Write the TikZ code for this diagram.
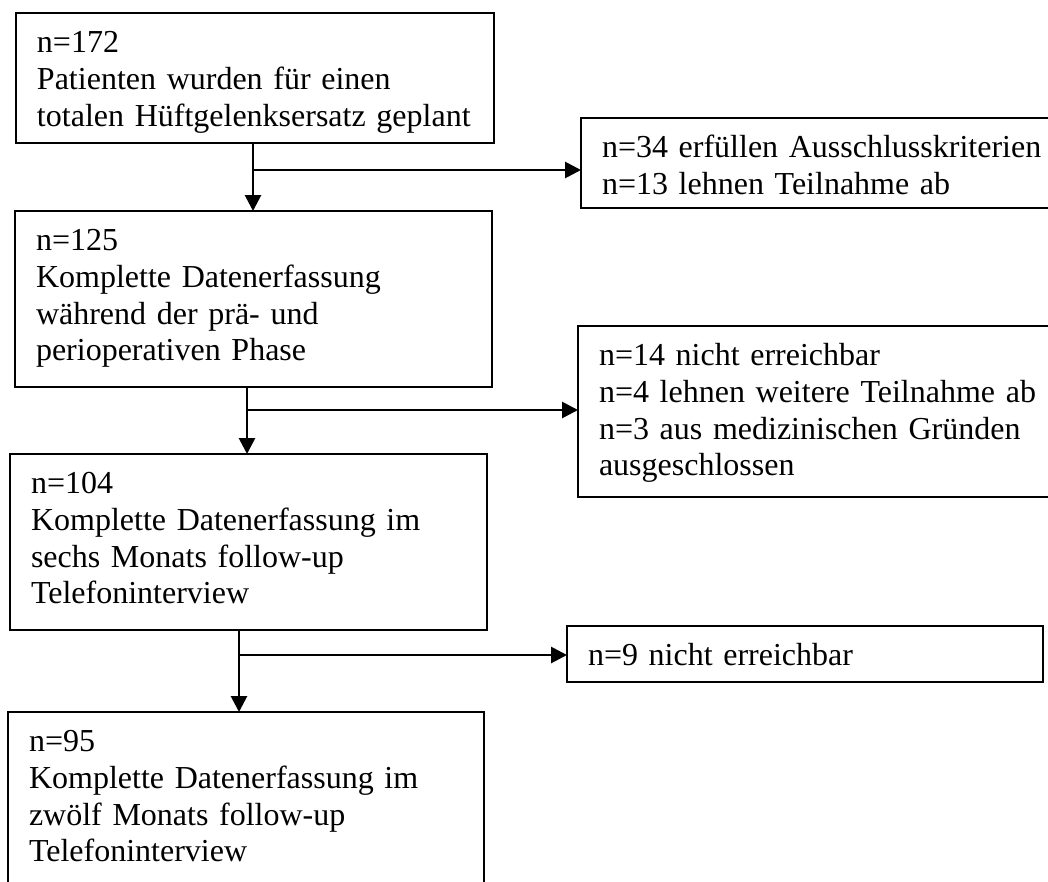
\documentclass[tikz,border=0pt]{standalone}
\usepackage{fontspec}
\setmainfont{Liberation Serif}
\usepackage{tikz}
\usetikzlibrary{arrows.meta}

\begin{document}
\begin{tikzpicture}[x=0.375pt, y=-0.375pt, text=black,
    stage/.style={draw, line width=0.75pt, anchor=north west, align=left,
      inner xsep=21*0.375pt, inner ysep=0pt, outer sep=0pt,
      text height=39.5*0.375pt,
      font={\fontsize{12pt}{13.8pt}\selectfont}},
    flow/.style={line width=1.05pt, -{Triangle[length=6pt, width=6pt]}}]
\useasboundingbox (0,0) rectangle (1048,881);

\node (planned) [stage, text width=(478-42)*0.375pt,
    text depth=(130-39.5)*0.375pt] at (16,13)
    {n=172\\ Patienten wurden für einen\\ totalen Hüftgelenksersatz geplant};

% right edge runs past the page, as in the scan
\node (excluded) [stage, text width=(520-42)*0.375pt,
    text depth=(90-39.5)*0.375pt] at (581,118)
    {n=34 erfüllen Ausschlusskriterien\\ n=13 lehnen Teilnahme ab};

\node (periop) [stage, text width=(477-42)*0.375pt,
    text depth=(176-39.5)*0.375pt] at (15,211)
    {n=125\\ Komplette Datenerfassung\\ während der prä- und\\
    perioperativen Phase};

\node (dropout) [stage, text width=(520-42)*0.375pt,
    text depth=(171-39.5)*0.375pt] at (578,326)
    {n=14 nicht erreichbar\\ n=4 lehnen weitere Teilnahme ab\\
    n=3 aus medizinischen Gründen\\ ausgeschlossen};

\node (sixmonths) [stage, text width=(477-42)*0.375pt,
    text depth=(176-39.5)*0.375pt] at (10,454)
    {n=104\\ Komplette Datenerfassung im\\ sechs Monats follow-up\\
    Telefoninterview};

\node (unreached) [stage, text width=(476-42)*0.375pt,
    text depth=(56-39.5)*0.375pt] at (567,626)
    {n=9 nicht erreichbar};

\node (twelvemonths) [stage, text width=(476-42)*0.375pt,
    text depth=(190-39.5)*0.375pt] at (8,712)
    {n=95\\ Komplette Datenerfassung im\\ zwölf Monats follow-up\\
    Telefoninterview};

% branch points
\coordinate (split1) at (253,170);
\coordinate (split2) at (247,410);
\coordinate (split3) at (239,655);

\draw[flow] (split1 |- planned.south) -- (split1 |- periop.north);
\draw[flow] (split1) -- (split1 -| excluded.west);

\draw[flow] (split2 |- periop.south) -- (split2 |- sixmonths.north);
\draw[flow] (split2) -- (split2 -| dropout.west);

\draw[flow] (split3 |- sixmonths.south) -- (split3 |- twelvemonths.north);
\draw[flow] (split3) -- (split3 -| unreached.west);

\end{tikzpicture}
\end{document}
